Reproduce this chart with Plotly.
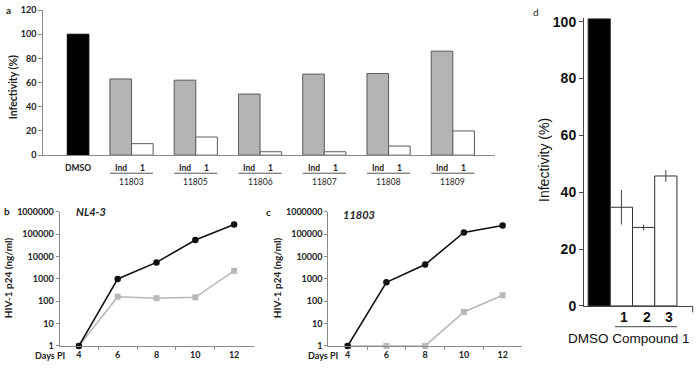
import plotly.graph_objects as go

W, H = 696, 370

# ---------------- data ----------------
# Panel a
a_groups = ["11803", "11805", "11806", "11807", "11808", "11809"]
a_categories = ["DMSO"] + a_groups
a_dmso = [100]
a_ind = [63, 62, 50.5, 67, 67.5, 86]
a_cmp1 = [9.5, 15, 2.8, 2.8, 7.5, 20]
a_yticks = [0, 20, 40, 60, 80, 100, 120]
a_sub_labels = ["Ind", "1"]

# Panels b / c
days = [4, 6, 8, 10, 12]
b_black = [1, 1000, 5500, 55000, 270000]
b_gray = [1, 160, 137, 150, 2300]
c_black = [1, 700, 4400, 120000, 245000]
c_gray = [1, 1, 1, 33, 185]
log_ticks = [1, 10, 100, 1000, 10000, 100000, 1000000]
log_ticktext = [str(v) for v in log_ticks]
b_title = "NL4-3"
c_title = "11803"

# Panel d
d_categories = ["DMSO", "1", "2", "3"]
d_values = [101, 34.7, 27.6, 45.7]
d_errors = [0, 6.1, 1.0, 2.0]
d_yticks = [0, 20, 40, 60, 80, 100]


def px(p):
    return p / W


def py(p):
    return 1 - p / H


FONT = "Lato, 'Open Sans', sans-serif"
NARROW = "'Liberation Sans Narrow', 'Arial Narrow', 'Liberation Sans', Arial, sans-serif"
ARIAL = "'Liberation Sans', Arial, sans-serif"
TXT = "#222222"
AX = "#8a8a8a"

fig = go.Figure()

# ---------------- panel a ----------------
BW = 0.336
fig.add_trace(go.Bar(x=["DMSO"], y=a_dmso, offset=0, width=BW,
                     marker=dict(color="#000000", line=dict(color="#000000", width=1)),
                     xaxis="x", yaxis="y", showlegend=False))
fig.add_trace(go.Bar(x=a_groups, y=a_ind, offset=-BW, width=BW,
                     marker=dict(color="#b4b4b4", line=dict(color="#5a5a5a", width=1)),
                     xaxis="x", yaxis="y", showlegend=False))
fig.add_trace(go.Bar(x=a_groups, y=a_cmp1, offset=0, width=BW,
                     marker=dict(color="#ffffff", line=dict(color="#5a5a5a", width=1)),
                     xaxis="x", yaxis="y", showlegend=False))

# ---------------- panels b / c ----------------
for xa, ya, blk, gry in (("x2", "y2", b_black, b_gray), ("x3", "y3", c_black, c_gray)):
    fig.add_trace(go.Scatter(x=days, y=gry, mode="lines+markers",
                             line=dict(color="#b8b8b8", width=1.6),
                             marker=dict(symbol="square", size=6, color="#b8b8b8"),
                             xaxis=xa, yaxis=ya, showlegend=False, cliponaxis=False))
    fig.add_trace(go.Scatter(x=days, y=blk, mode="lines+markers",
                             line=dict(color="#111111", width=1.6),
                             marker=dict(symbol="circle", size=6.5, color="#111111"),
                             xaxis=xa, yaxis=ya, showlegend=False, cliponaxis=False))

# ---------------- panel d ----------------
fig.add_trace(go.Bar(x=d_categories, y=d_values, width=1,
                     marker=dict(color=["#000000", "#ffffff", "#ffffff", "#ffffff"],
                                 line=dict(color="#333333", width=1)),
                     error_y=dict(type="data", array=d_errors, visible=True,
                                  color="#444444", thickness=1, width=0),
                     xaxis="x4", yaxis="y4", showlegend=False))

tick_font = dict(family=FONT, size=9, color=TXT, weight="bold")

layout = dict(
    width=W, height=H, margin=dict(l=0, r=0, t=0, b=0),
    paper_bgcolor="white", plot_bgcolor="white", barmode="overlay",
    font=dict(family=FONT, color=TXT),
    # panel a
    xaxis=dict(domain=[px(43.3), px(495)], type="category", categoryorder="array",
               categoryarray=a_categories, range=[-0.373, 6.656],
               showline=True, linecolor=AX, linewidth=1, ticks="", showticklabels=False,
               showgrid=False, zeroline=False, anchor="y", fixedrange=True),
    yaxis=dict(domain=[py(155), py(4.2)], range=[0, 120], tickvals=a_yticks,
               ticks="outside", ticklen=4, tickcolor=AX, showline=True, linecolor=AX,
               showgrid=False, zeroline=False, tickfont=tick_font, anchor="x"),
    # panel b
    xaxis2=dict(domain=[px(59.5), px(253.5)], range=[3, 13], tickvals=days, ticks="",
                minor=dict(tickmode="array", tickvals=[5, 7, 9, 11], ticks="outside",
                           ticklen=3, tickcolor=AX),
                showline=True, linecolor=AX, showgrid=False, zeroline=False,
                tickfont=tick_font, anchor="y2"),
    yaxis2=dict(domain=[py(353.3), py(214)], type="log", range=[0, 6],
                tickvals=log_ticks, ticktext=log_ticktext, ticks="outside", ticklen=3,
                tickcolor=AX, showline=True, linecolor=AX, showgrid=False,
                zeroline=False, tickfont=tick_font, anchor="x2"),
    # panel c
    xaxis3=dict(domain=[px(328.3), px(522)], range=[3, 13], tickvals=days, ticks="",
                minor=dict(tickmode="array", tickvals=[5, 7, 9, 11], ticks="outside",
                           ticklen=3, tickcolor=AX),
                showline=True, linecolor=AX, showgrid=False, zeroline=False,
                tickfont=tick_font, anchor="y3"),
    yaxis3=dict(domain=[py(353.3), py(214)], type="log", range=[0, 6],
                tickvals=log_ticks, ticktext=log_ticktext, ticks="outside", ticklen=3,
                tickcolor=AX, showline=True, linecolor=AX, showgrid=False,
                zeroline=False, tickfont=tick_font, anchor="x3"),
    # panel d
    xaxis4=dict(domain=[px(584), px(692.7)], type="category", categoryorder="array",
                categoryarray=d_categories, range=[-0.685, 4.21], showline=True,
                linecolor="#444444", ticks="", showticklabels=False, showgrid=False,
                zeroline=False, anchor="y4"),
    yaxis4=dict(domain=[py(311.7), py(12.7)], range=[0, 101.2], tickvals=d_yticks,
                ticks="outside", ticklen=4, tickcolor="#444444", showline=True,
                linecolor="#444444", showgrid=False, zeroline=False,
                tickfont=dict(family=NARROW, size=14, color="#111111", weight="bold"),
                anchor="x4"),
)

ann = []
shapes = []

def label(x, y, text, size=9, bold=True, italic=False, xanchor="center", yanchor="middle",
          xref="paper", yref="paper", family=FONT, angle=0, color=TXT):
    ann.append(dict(x=x, y=y, xref=xref, yref=yref, text=text, showarrow=False,
                    xanchor=xanchor, yanchor=yanchor, textangle=angle,
                    font=dict(family=family, size=size, color=color,
                              weight="bold" if bold else "normal",
                              style="italic" if italic else "normal")))

# panel a labels
label(px(3.5), py(4), "a", size=10, xanchor="left")
label(px(12.5), py(85), "Infectivity (%)", size=10.5, angle=-90)
label(a_categories.index("DMSO") + BW / 2, py(168.3), "DMSO", size=8.5, xref="x")
for g in a_groups:
    i = a_categories.index(g)
    label(i - BW / 2, py(168.3), a_sub_labels[0], size=8.5, xref="x")
    label(i + BW / 2, py(168.3), a_sub_labels[1], size=8.5, xref="x")
    shapes.append(dict(type="line", xref="x", yref="paper", x0=i - BW, x1=i + BW,
                       y0=py(173.8), y1=py(173.8), line=dict(color="#555555", width=1)))
    label(i, py(183), g, size=8.5, xref="x", bold=False)

# panel b / c labels
label(px(2), py(213), "b", size=10, xanchor="left")
label(px(8), py(283), "HIV-1 p24 (ng/ml)", size=10, angle=-90)
label(px(67), py(363), "Days PI", size=9, xanchor="right")
label(px(74), py(213.5), b_title, size=11, italic=True, xanchor="left")

label(px(264), py(214.5), "c", size=10, xanchor="left")
label(px(277), py(283), "HIV-1 p24 (ng/ml)", size=10, angle=-90)
label(px(340), py(363), "Days PI", size=9, xanchor="right")
label(px(340.5), py(217), c_title, size=11, italic=True, xanchor="left")

# panel d labels
label(px(531), py(6), "d", size=10, bold=False, xanchor="left")
label(px(544), py(160), "Infectivity (%)", size=14, bold=False, angle=-90, family=ARIAL,
      color="#111111")
for i, c in enumerate(d_categories[1:], start=1):
    label(i, py(323.5), c, size=14, bold=True, xref="x4", family=ARIAL, color="#111111")
    ann[-1]["xshift"] = 3
label(px(692), py(346), "DMSO Compound 1", size=13.5, bold=False, xanchor="right",
      family=ARIAL, color="#111111")
shapes.append(dict(type="line", xref="paper", yref="paper", x0=px(615), x1=px(677),
                   y0=py(333.3), y1=py(333.3), line=dict(color="#444444", width=1)))
shapes.append(dict(type="line", xref="paper", yref="paper", x0=px(692.7), x1=px(692.7),
                   y0=py(311.7), y1=py(318.5), line=dict(color="#444444", width=1)))

layout["annotations"] = ann
layout["shapes"] = shapes
fig.update_layout(**layout)

fig.write_html("out.html", config={"displayModeBar": False},
               post_script="document.body.style.margin='0';document.body.style.padding='0';")
